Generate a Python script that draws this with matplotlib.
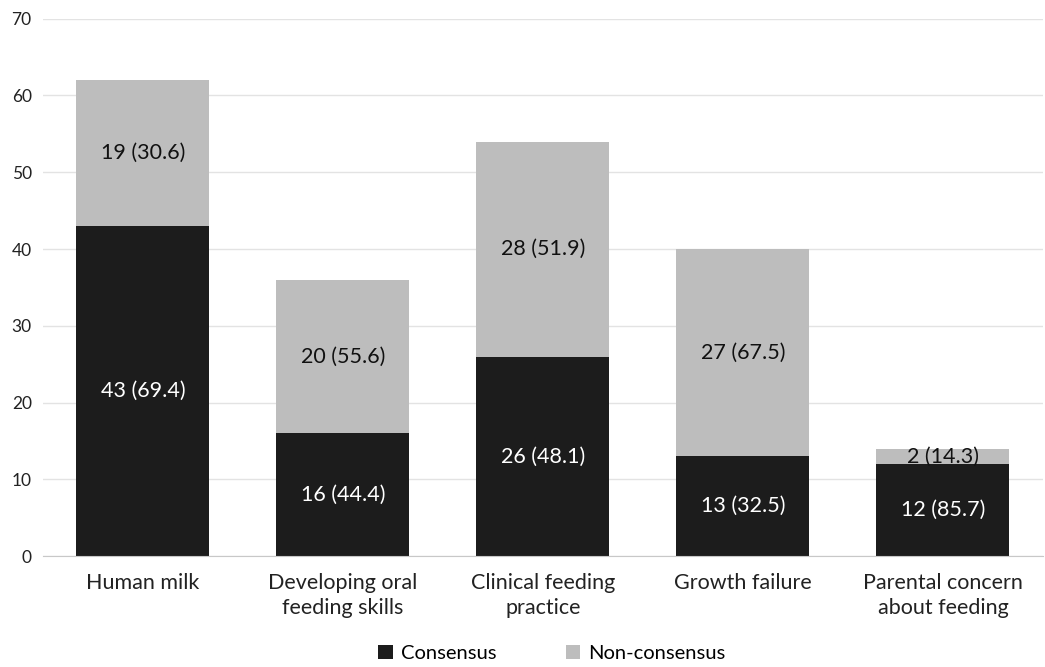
import matplotlib
matplotlib.use('Agg')
import matplotlib.pyplot as plt
import numpy as np

plt.rcParams['font.family'] = ['Lato', 'DejaVu Sans']

categories = ['Human milk', 'Developing oral\nfeeding skills', 'Clinical feeding\npractice',
              'Growth failure', 'Parental concern\nabout feeding']
consensus = [43, 16, 26, 13, 12]
consensus_pct = [69.4, 44.4, 48.1, 32.5, 85.7]
non_consensus = [19, 20, 28, 27, 2]
non_consensus_pct = [30.6, 55.6, 51.9, 67.5, 14.3]

dark = '#1c1c1c'
grey = '#bdbdbd'

fig = plt.figure(figsize=(10.45, 6.67), dpi=100)
ax = fig.add_axes([0.041, 0.166, 0.957, 0.806])

x = np.arange(len(categories))
w = 0.665
ax.bar(x, consensus, w, color=dark, label='Consensus', zorder=3)
ax.bar(x, non_consensus, w, bottom=consensus, color=grey, label='Non-consensus', zorder=3)

for i in range(len(categories)):
    ax.text(x[i], consensus[i] / 2, '{} ({})'.format(consensus[i], consensus_pct[i]),
            ha='center', va='center', color='white', fontsize=15.5, zorder=4)
    ax.text(x[i], consensus[i] + non_consensus[i] / 2,
            '{} ({})'.format(non_consensus[i], non_consensus_pct[i]),
            ha='center', va='center', color='#111111', fontsize=15.5, zorder=4)

ax.set_xlim(-0.5, len(categories) - 0.5)
ax.set_ylim(0, 70)
ax.set_yticks(range(0, 71, 10))
ax.set_xticks(x)
ax.set_xticklabels(categories, fontsize=15.5, color='#222222', linespacing=1.3)
ax.tick_params(axis='y', labelsize=12.5, length=0, pad=8, colors='#222222')
ax.tick_params(axis='x', length=0, pad=12)
ax.grid(axis='y', color='#e3e3e3', linewidth=1, zorder=0)
for s in ['top', 'right', 'left']:
    ax.spines[s].set_visible(False)
ax.spines['bottom'].set_color('#c8c8c8')
ax.spines['bottom'].set_zorder(5)

fig.legend(loc='lower center', bbox_to_anchor=(0.528, -0.02), ncol=2, frameon=False,
           fontsize=14.5, handlelength=0.7, handleheight=0.7, handletextpad=0.4,
           columnspacing=3.45)

fig.savefig('out.png', dpi=100)
